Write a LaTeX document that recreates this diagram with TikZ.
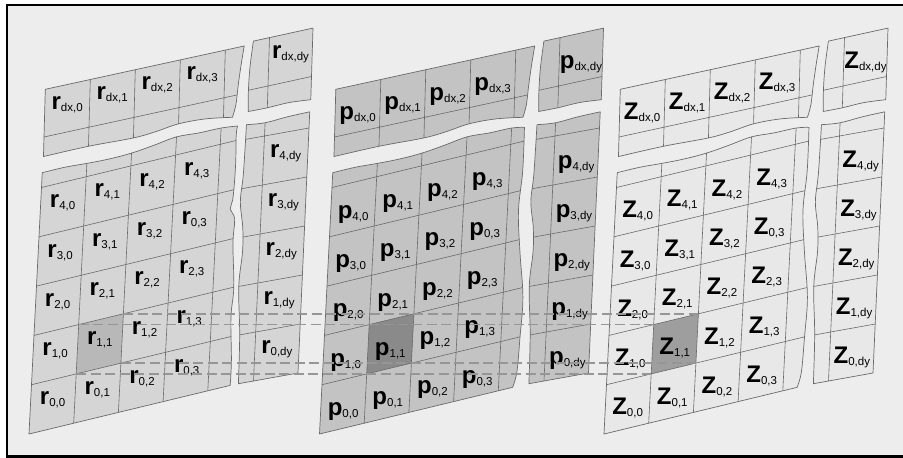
\documentclass[tikz,border=0pt]{standalone}
\usepackage{fontspec}
\setmainfont{Liberation Sans}
\definecolor{paneback}{HTML}{EDEDED}
\definecolor{rfill}{HTML}{D5D5D5}
\definecolor{rmark}{HTML}{B8B8B8}
\definecolor{pfill}{HTML}{C3C3C3}
\definecolor{pmark}{HTML}{8A8A8A}
\definecolor{zfill}{HTML}{E8E8E8}
\definecolor{zmark}{HTML}{9E9E9E}
\definecolor{rulegray}{HTML}{6A6A6A}
\definecolor{linkgray}{HTML}{969696}

\tikzset{
  tileedge/.style={draw=rulegray, line width=0.7pt, line join=round},
  tilerule/.style={draw=rulegray, line width=0.6pt},
  tag/.style={anchor=base, inner sep=0pt, outer sep=0pt},
  linkline/.style={draw=linkgray, line width=1.5pt, dash pattern=on 10pt off 4.5pt},
  frameline/.style={draw=black, line width=2.5pt},
  tear/.style={smooth, tension=0.6},
}

% element label: bold letter with a smaller index
\newcommand\lab[2]{{\fontsize{24}{24}\selectfont\bfseries #1}\raisebox{-2pt}{\fontsize{11.5}{12}\selectfont #2}}

% outlines of the four torn pieces, in cell units of each piece
\def\outAwide{(0,0) -- (4.5,0) -- plot[tear] coordinates {(4.5,0) (4.5,0.5) (4.44,1.4) (4.47,2.0) (4.4,2.9) (4.41,3.4) (4.3,3.62) (4.35,3.85) (4.37,4.5) (4.35,5.1) (4.37,5.29)} -- plot[tear] coordinates {(4.37,5.29) (4,5.33) (3.5,5.34) (3,5.37) (2.5,5.31) (2,5.26) (1.5,5.25) (1,5.27) (0.5,5.3) (0,5.3)} -- cycle}
\def\outAnarrow{(0,0) -- (4.32,0) -- plot[tear] coordinates {(4.32,0) (4.4,0.3) (4.43,1.0) (4.45,1.8) (4.33,2.75) (4.25,3.6) (4.3,4.4) (4.29,5.28)} -- plot[tear] coordinates {(4.29,5.28) (4,5.33) (3.5,5.34) (3,5.37) (2.5,5.31) (2,5.26) (1.5,5.25) (1,5.27) (0.5,5.3) (0,5.3)} -- cycle}
\def\outB{(1,0) -- (-0.34,0) -- plot[tear] coordinates {(-0.34,0) (-0.36,1.0) (-0.43,2.0) (-0.38,2.7) (-0.40,3.2) (-0.48,3.74) (-0.44,4.3) (-0.42,5.3)} -- plot[tear] coordinates {(-0.42,5.3) (0,5.27) (0.5,5.31) (1,5.33)} -- cycle}
\def\outC{(0,-0.41) -- (0,1) -- (4.42,1) -- plot[tear] coordinates {(4.42,1) (4.36,0.6) (4.31,0.2) (4.27,-0.2) (4.2,-0.45)} -- plot[tear] coordinates {(4.2,-0.45) (3.6,-0.36) (3,-0.34) (2.5,-0.40) (2,-0.43) (1,-0.40) (0,-0.41)} -- cycle}
\def\outD{(-0.37,1) -- (1,1) -- (1,-0.48) -- plot[tear] coordinates {(1,-0.48) (0.5,-0.44) (0,-0.45) (-0.44,-0.44)} -- plot[tear] coordinates {(-0.44,-0.44) (-0.45,0) (-0.43,0.48) (-0.37,1)} -- cycle}

% one skewed array: #1 name prefix, #2 letter, #3 fill, #4 marked cell fill,
% #5 x offset, #6 text drop, #7 outline of the main block
\newcommand\tilegrid[7]{%
\begin{scope}[xshift=#5pt]
  % main block
  \begin{scope}[shift={(29,434)}, x={(44.7pt,10.8pt)}, y={(2.5pt,49.3pt)}]
    \fill[#3] #7;
    \fill[#4] (1,1) -- (2,1) -- (2,2) -- (1,2) -- cycle;
    \begin{scope}
      \clip #7;
      \foreach \ci in {1,...,4} \draw[tilerule] (\ci,-0.2) -- (\ci,5.6);
      \foreach \ri in {1,...,5} \draw[tilerule] (-0.2,\ri) -- (4.8,\ri);
    \end{scope}
    \draw[tileedge] #7;
    \coordinate (#1-bl) at (1,1);
    \coordinate (#1-br) at (2,1);
    \coordinate (#1-tl) at (1,2);
    \coordinate (#1-tr) at (2,2);
    \foreach \ri in {0,...,4}{\foreach \ci in {0,...,3}{%
      \pgfmathtruncatemacro\cellno{10*\ri+\ci}%
      \ifnum\cellno=33 \def\subtxt{0,3}\else\edef\subtxt{\ri,\ci}\fi
      \node[tag, yshift=-#6pt] (#1-\ri-\ci) at (\ci+0.5,\ri+0.5) {\lab{#2}{\subtxt}};
    }}
  \end{scope}
  % last column
  \begin{scope}[shift={(253.5,381)}, x={(44.5pt,8pt)}, y={(2.2pt,49pt)}]
    \fill[#3] \outB;
    \begin{scope}
      \clip \outB;
      \draw[tilerule] (0,-0.2) -- (0,5.6);
      \foreach \ri in {1,...,5} \draw[tilerule] (-0.7,\ri) -- (1.2,\ri);
    \end{scope}
    \draw[tileedge] \outB;
    \foreach \ri in {0,...,4}
      \node[tag, yshift=-#6pt] (#1-\ri-dy) at (0.5,\ri+0.5) {\lab{#2}{\ri,dy}};
  \end{scope}
  % last row
  \begin{scope}[shift={(44,137)}, x={(45pt,9.8pt)}, y={(1.3pt,47.7pt)}]
    \fill[#3] \outC;
    \begin{scope}
      \clip \outC;
      \foreach \ci in {1,...,4} \draw[tilerule] (\ci,-0.7) -- (\ci,1.2);
      \draw[tilerule] (-0.2,0) -- (4.7,0);
    \end{scope}
    \draw[tileedge] \outC;
    \foreach \ci in {0,...,3}
      \node[tag, yshift=-#6pt] (#1-dx-\ci) at (\ci+0.5,0.5) {\lab{#2}{dx,\ci}};
  \end{scope}
  % corner cell
  \begin{scope}[shift={(268,86)}, x={(43.5pt,9.5pt)}, y={(1.5pt,48.4pt)}]
    \fill[#3] \outD;
    \begin{scope}
      \clip \outD;
      \draw[tilerule] (0,-0.7) -- (0,1.2);
      \draw[tilerule] (-0.7,0) -- (1.2,0);
    \end{scope}
    \draw[tileedge] \outD;
    \node[tag, yshift=-#6pt] (#1-dx-dy) at (0.5,0.5) {\lab{#2}{dx,dy}};
  \end{scope}
\end{scope}}

\begin{document}
\begin{tikzpicture}[x=1pt,y=-1pt]
  \useasboundingbox (0,0) rectangle (903,458);
  \fill[paneback] (7,5) rectangle (903,456.5);
  \draw[frameline] (903,5) -- (7,5) -- (7,456.5) -- (903,456.5);

  \tilegrid{r}{r}{rfill}{rmark}{0}{1}{\outAwide}
  \tilegrid{p}{p}{pfill}{pmark}{290.5}{11.5}{\outAnarrow}
  \tilegrid{z}{Z}{zfill}{zmark}{575}{11}{\outAnarrow}

  % the same cell traced across the three arrays
  \draw[linkline] (r-tr) -- (z-tr);
  \draw[linkline] (r-tl) -- (z-tl);
  \draw[linkline] (r-br) -- (z-br);
  \draw[linkline] (r-bl) -- (z-bl);
\end{tikzpicture}
\end{document}
